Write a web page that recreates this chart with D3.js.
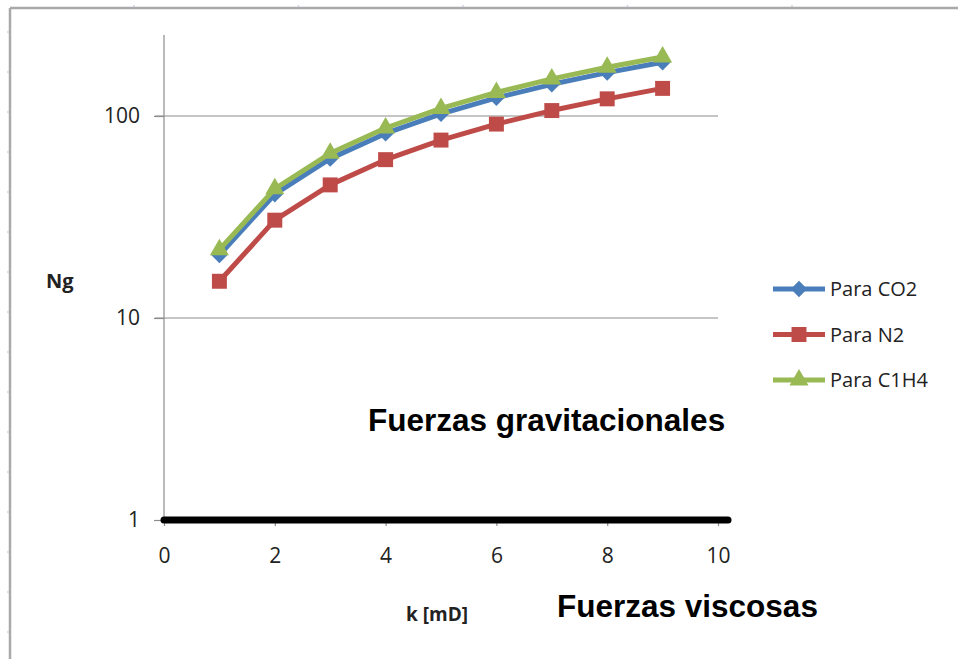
<!DOCTYPE html>
<html>
<head>
<meta charset="utf-8">
<script src="https://cdn.jsdelivr.net/npm/d3@7"></script>
<style>
  body { margin: 0; background: #fff; }
  svg { display: block; }
</style>
</head>
<body>
<div id="chart"></div>
<script>
// permeability k [mD]
const kValues = [1, 2, 3, 4, 5, 6, 7, 8, 9]
const co2 = [20.5, 41, 61.5, 82, 102.5, 123, 143.5, 164, 184.5]
const n2 = [15.2, 30.5, 45.6, 60.8, 76, 91.2, 106.4, 121.6, 137]
const c1h4 = [21.8, 43.6, 65.4, 87.2, 109, 130.8, 152.6, 174.4, 196]
const seriesNames = ['Para CO2', 'Para N2', 'Para C1H4']
const xTicks = [0, 2, 4, 6, 8, 10]
const yTicks = [1, 10, 100]

const W = 958, H = 659
const colors = ['#4a7ebb', '#be4b48', '#98b954']
const symbols = [d3.symbolDiamond2, d3.symbolSquare2, d3.symbolTriangle2]
const symSizes = [170, 285, 260]

const svg = d3.select('#chart').append('svg')
  .attr('width', W).attr('height', H)

// page frame (screenshot edges) with faint ruler ticks
const frame = svg.append('g')
frame.append('line').attr('x1', 10).attr('x2', W).attr('y1', 8).attr('y2', 8)
  .attr('stroke', '#a9a9a9').attr('stroke-width', 2.5)
frame.append('line').attr('x1', 10).attr('x2', 10).attr('y1', 8).attr('y2', H)
  .attr('stroke', '#a9a9a9').attr('stroke-width', 2.5)
for (let i = 0; i < 5; i++) {
  const tx = 134 + i * 164.5
  frame.append('line').attr('x1', tx).attr('x2', tx).attr('y1', 5).attr('y2', 7)
    .attr('stroke', '#d0d0e0').attr('stroke-width', 1.5)
}
for (let ty = 32; ty < H; ty += 40) {
  frame.append('line').attr('x1', 7).attr('x2', 9).attr('y1', ty).attr('y2', ty)
    .attr('stroke', '#d0d0e0').attr('stroke-width', 1.5)
}

const x = d3.scaleLinear().domain([0, 10]).range([164, 718])
const y = d3.scaleLog().domain([1, 100]).range([520, 116])

// gridlines
svg.append('g').selectAll('line')
  .data(yTicks.filter(t => t > 1))
  .join('line')
  .attr('x1', 155).attr('x2', x(10))
  .attr('y1', d => y(d)).attr('y2', d => y(d))
  .attr('stroke', '#8c8c8c').attr('stroke-width', 1.2)

// y axis
const yAxis = d3.axisLeft(y).tickValues(yTicks).tickFormat(d3.format('d')).tickSize(10).tickPadding(14)
const yg = svg.append('g').attr('transform', `translate(${x(0)},0)`).call(yAxis)
yg.select('.domain').remove()
yg.append('line').attr('x1', 0).attr('x2', 0).attr('y1', 35).attr('y2', y(1))
  .attr('stroke', '#8c8c8c').attr('stroke-width', 1.2)
yg.selectAll('.tick line').attr('stroke', '#8c8c8c').attr('stroke-width', 1.2)
yg.selectAll('.tick text').attr('fill', '#222')
  .style('font-family', 'Open Sans, sans-serif').style('font-size', '21px')

// x axis
const xAxis = d3.axisBottom(x).tickValues(xTicks).tickSize(6).tickPadding(22)
const xg = svg.append('g').attr('transform', `translate(0,${y(1)})`).call(xAxis)
xg.select('.domain').remove()
xg.selectAll('.tick line').attr('stroke', '#8c8c8c').attr('stroke-width', 1.2)
xg.selectAll('.tick text').attr('fill', '#222')
  .style('font-family', 'Open Sans, sans-serif').style('font-size', '21px')
xg.append('line').attr('x1', x(0)).attr('x2', x(10) + 10).attr('y1', 0).attr('y2', 0)
  .attr('stroke', '#000').attr('stroke-width', 7).attr('stroke-linecap', 'round')

// series
const allSeries = [co2, n2, c1h4]
const line = d3.line().x((d, i) => x(kValues[i])).y(d => y(d))
allSeries.forEach((s, si) => {
  const g = svg.append('g')
  g.append('path').datum(s)
    .attr('d', line).attr('fill', 'none')
    .attr('stroke', colors[si]).attr('stroke-width', 5)
    .attr('stroke-linejoin', 'round')
  g.selectAll('path.mk').data(s).join('path').attr('class', 'mk')
    .attr('transform', (d, i) => `translate(${x(kValues[i])},${y(d)})`)
    .attr('d', d3.symbol(symbols[si], symSizes[si]))
    .attr('fill', colors[si])
})

// legend
const legend = svg.append('g').attr('transform', 'translate(773,289)')
seriesNames.forEach((name, i) => {
  const row = legend.append('g').attr('transform', `translate(0,${i * 45.5})`)
  row.append('line').attr('x1', 0).attr('x2', 52).attr('y1', 0).attr('y2', 0)
    .attr('stroke', colors[i]).attr('stroke-width', 5)
  row.append('path').attr('transform', 'translate(26,0)')
    .attr('d', d3.symbol(symbols[i], symSizes[i])).attr('fill', colors[i])
  row.append('text').attr('x', 57).attr('y', 7).text(name)
    .attr('fill', '#222')
    .style('font-family', 'Open Sans, sans-serif').style('font-size', '20px')
})

// axis titles and annotations
svg.append('text').attr('x', 46).attr('y', 288).text('Ng')
  .style('font-family', 'Open Sans, sans-serif').style('font-size', '20px').style('font-weight', 'bold')
  .attr('fill', '#222')
svg.append('text').attr('x', 406).attr('y', 621).text('k [mD]')
  .style('font-family', 'Open Sans, sans-serif').style('font-size', '19px').style('font-weight', 'bold')
  .attr('fill', '#222')
svg.append('text').attr('x', 368).attr('y', 431).text('Fuerzas gravitacionales')
  .style('font-family', 'Liberation Sans, Arial, sans-serif').style('font-size', '31.5px').style('font-weight', 'bold')
  .attr('fill', '#000')
svg.append('text').attr('x', 557).attr('y', 617).text('Fuerzas viscosas')
  .style('font-family', 'Liberation Sans, Arial, sans-serif').style('font-size', '31.5px').style('font-weight', 'bold')
  .attr('fill', '#000')
</script>
</body>
</html>
